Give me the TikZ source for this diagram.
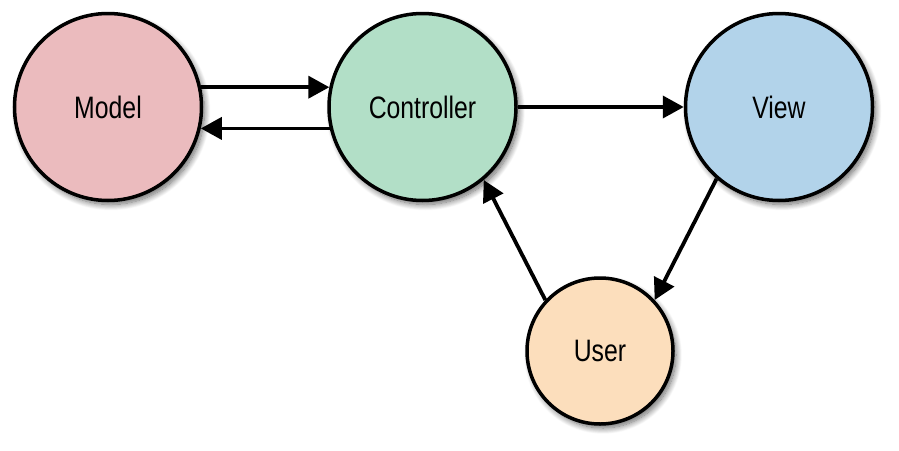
\documentclass[tikz,border=0pt]{standalone}
\usepackage{fontspec}
\setmainfont{Liberation Sans}[FakeStretch=0.8]
\usetikzlibrary{arrows.meta,shadows.blur}
\definecolor{cmodel}{RGB}{235,187,190}
\definecolor{cctrl}{RGB}{178,223,199}
\definecolor{cview}{RGB}{178,211,234}
\definecolor{cuser}{RGB}{252,222,188}
\tikzset{
  bubble/.style={circle, draw=black, line width=3.5pt, minimum size=187pt, inner sep=0pt,
    font=\fontsize{31}{36}\selectfont,
    blur shadow={shadow xshift=3pt, shadow yshift=-4pt, shadow blur radius=6pt, shadow blur steps=12, shadow opacity=60}},
  conn/.style={line width=3.8pt, -{Triangle[length=21pt,width=22pt]}}
}
\begin{document}
\begin{tikzpicture}[x=1pt,y=1pt]
\useasboundingbox (0,0) rectangle (899,-450);
\node[bubble, fill=cmodel] (model) at (108,-107) {Model};
\node[bubble, fill=cctrl] (ctrl) at (422.5,-107) {Controller};
\node[bubble, fill=cview] (view) at (779,-107) {View};
\node[bubble, fill=cuser, minimum size=146pt] (user) at (600,-351) {User};
\draw[conn] (model.12) -- (ctrl.168);
\draw[conn] (ctrl.193.4) -- (model.-13.4);
\draw[conn] (ctrl) -- (view);
\draw[conn] (view.229.9) -- (user.43.9);
\draw[conn] (user.137) -- (ctrl.310);
\end{tikzpicture}
\end{document}
